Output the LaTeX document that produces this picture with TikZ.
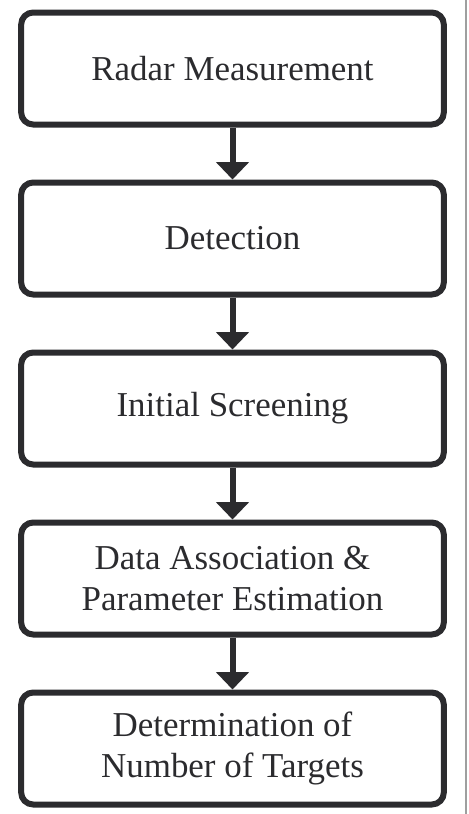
\documentclass[tikz,border=0pt]{standalone}
\usepackage{fontspec}
\setmainfont{Liberation Serif}
\usetikzlibrary{arrows.meta}
\definecolor{ink}{HTML}{2B2B2E}

\begin{document}
\begin{tikzpicture}[x=.75pt,y=-.75pt,
  stage/.style={draw=ink,line width=4.5pt,rounded corners=9pt,minimum width=317pt,minimum height=84pt,inner sep=0,align=center,text=ink,font=\fontsize{26.2}{31}\selectfont},
  flow/.style={draw=ink,line width=4.5pt,-{Triangle[length=13pt,width=24pt]}}]
\useasboundingbox (0,0) rectangle (468,814);
\draw[gray!75,line width=.8pt] (466,0)--(466,814);
\node[stage] (meas) at (232.5,68.5) {Radar Measurement};
\node[stage] (det) at (232.5,238.5) {Detection};
\node[stage] (screen) at (232.5,408.5) {Initial Screening};
\node[stage] (assoc) at (232.5,578.5) {Data Association \&\\Parameter Estimation};
\node[stage] (count) at (232.5,748.5) {Determination of\\Number of Targets};
\draw[flow] (meas.south)--(det.north);
\draw[flow] (det.south)--(screen.north);
\draw[flow] (screen.south)--(assoc.north);
\draw[flow] (assoc.south)--(count.north);
\end{tikzpicture}
\end{document}
